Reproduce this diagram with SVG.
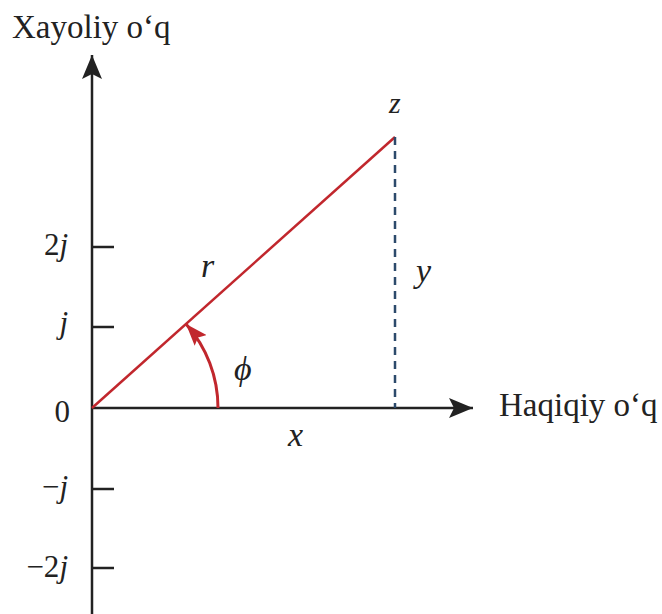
<svg xmlns="http://www.w3.org/2000/svg" width="662" height="614" viewBox="0 0 662 614">
<style>
.ax{stroke:#222;stroke-width:2.5;fill:none}
.tk{stroke:#222;stroke-width:2.5}
.lbl{font-family:"Liberation Serif","Times New Roman",serif;fill:#222}
.it{font-style:italic}
.up{font-style:normal}
.tl{font-size:31px;text-anchor:end}
.red{stroke:#c1272d;fill:none}
</style>
<defs>
<marker id="ah" viewBox="0 0 24 20" refX="24" refY="10" markerWidth="24" markerHeight="20" markerUnits="userSpaceOnUse" orient="auto">
<path d="M0,0 L24,10 L0,20 L5,10 Z" fill="#222"/>
</marker>
<marker id="rh" viewBox="0 0 22 16" refX="22" refY="8" markerWidth="22" markerHeight="16" markerUnits="userSpaceOnUse" orient="auto">
<path d="M0,0 L22,8 L0,16 L4,8 Z" fill="#c1272d"/>
</marker>
</defs>
<g id="axes">
<line class="ax" x1="92" y1="614" x2="92" y2="55" marker-end="url(#ah)"/>
<line class="ax" x1="92" y1="408" x2="473" y2="408" marker-end="url(#ah)"/>
<line class="tk" x1="92" y1="247" x2="114" y2="247"/>
<line class="tk" x1="92" y1="327" x2="114" y2="327"/>
<line class="tk" x1="92" y1="489" x2="114" y2="489"/>
<line class="tk" x1="92" y1="568" x2="114" y2="568"/>
</g>
<g id="connectors">
<line class="red" stroke-width="2.5" x1="92" y1="408" x2="395" y2="137"/>
<line x1="395" y1="137" x2="395" y2="408" stroke="#2c4a6b" stroke-width="2.5" stroke-dasharray="8,6"/>
<path class="red" stroke-width="3" d="M218,408 A126,126 0 0 0 186,324" marker-end="url(#rh)"/>
</g>
<g id="labels">
<text class="lbl" x="12" y="38" font-size="33">Xayoliy o‘q</text>
<text class="lbl" x="499" y="416" font-size="33">Haqiqiy o‘q</text>
<text class="lbl it" x="389" y="113" font-size="30">z</text>
<text class="lbl it" x="201" y="277" font-size="34">r</text>
<text class="lbl it" x="416" y="282" font-size="34">y</text>
<text class="lbl it" x="234" y="380" font-size="34">ϕ</text>
<text class="lbl it" x="288" y="446" font-size="34">x</text>
<text class="lbl tl" x="70" y="422">0</text>
<text class="lbl it tl" x="68" y="255"><tspan class="up">2</tspan>j</text>
<text class="lbl it tl" x="68" y="333">j</text>
<text class="lbl it tl" x="68" y="497"><tspan class="up">−</tspan>j</text>
<text class="lbl it tl" x="68" y="577"><tspan class="up">−2</tspan>j</text>
</g>
</svg>
